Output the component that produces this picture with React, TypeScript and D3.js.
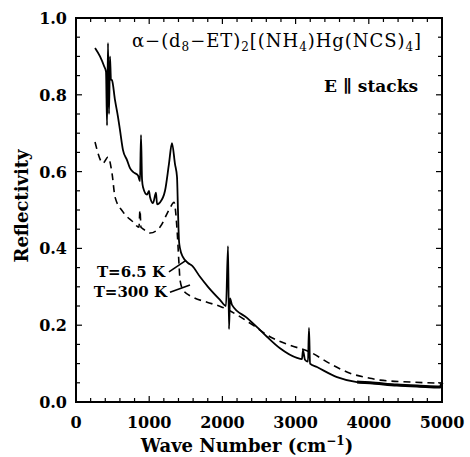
import React from "react";
import * as d3 from "d3";

// T = 6.5 K (solid)
const t65Wave = [260, 328, 383, 410, 424, 437, 451, 464, 478, 492, 533, 574, 601, 642, 697, 738, 779, 847, 874, 888, 902, 915, 970, 997, 1011, 1052, 1093, 1107, 1148, 1216, 1270, 1311, 1352, 1380, 1393, 1407, 1421, 1462, 1530, 1585, 1694, 1803, 1967, 2049, 2077, 2090, 2104, 2131, 2336, 2473, 2609, 2787, 3019, 3087, 3101, 3128, 3169, 3183, 3197, 3292, 3566, 3839, 4016, 4385, 4700, 4973, 5000];
const t65Refl = [0.922, 0.9, 0.875, 0.86, 0.72, 0.935, 0.75, 0.9, 0.84, 0.838, 0.786, 0.742, 0.708, 0.656, 0.63, 0.609, 0.599, 0.59, 0.575, 0.695, 0.58, 0.56, 0.54, 0.55, 0.534, 0.518, 0.545, 0.515, 0.52, 0.55, 0.62, 0.674, 0.62, 0.586, 0.5, 0.42, 0.4, 0.377, 0.362, 0.355, 0.326, 0.3, 0.266, 0.25, 0.406, 0.19, 0.27, 0.253, 0.219, 0.195, 0.17, 0.14, 0.115, 0.112, 0.135, 0.11, 0.105, 0.193, 0.1, 0.091, 0.065, 0.052, 0.05, 0.044, 0.041, 0.039, 0.05];

// T = 300 K (dashed)
const t300Wave = [260, 369, 437, 492, 533, 642, 779, 860, 874, 888, 902, 1011, 1148, 1284, 1339, 1380, 1407, 1421, 1462, 1598, 1790, 1995, 2200, 2418, 2650, 2923, 3197, 3470, 3743, 4016, 4153, 4563, 4973];
const t300Refl = [0.677, 0.622, 0.638, 0.596, 0.534, 0.495, 0.469, 0.455, 0.5, 0.455, 0.453, 0.44, 0.456, 0.505, 0.52, 0.45, 0.36, 0.318, 0.292, 0.273, 0.26, 0.247, 0.227, 0.2, 0.17, 0.148, 0.13, 0.1, 0.075, 0.062, 0.057, 0.052, 0.049];

const xTicks = [0, 1000, 2000, 3000, 4000, 5000];
const xTickLabels = ["0", "1000", "2000", "3000", "4000", "5000"];
const yTicks = [0, 0.2, 0.4, 0.6, 0.8, 1.0];
const yTickLabels = ["0.0", "0.2", "0.4", "0.6", "0.8", "1.0"];

const seriesLabels = ["T=6.5 K", "T=300 K"];
// label anchor [wave, refl] and pointer [[w1,r1],[w2,r2]]
const labelAnchors: [number, number][] = [[1216, 0.326], [1243, 0.273]];
const pointers: [number, number][][] = [
  [[1270, 0.339], [1503, 0.369]],
  [[1284, 0.286], [1557, 0.305]],
];

const W = 470, H = 457;
const L = 76, R = 442, T = 18, B = 402;

export default function App() {
  const x = d3.scaleLinear().domain([0, 5000]).range([L, R]);
  const y = d3.scaleLinear().domain([0, 1]).range([B, T]);
  const line = d3.line<[number, number]>().x(d => x(d[0])).y(d => y(d[1]));
  const curve = d3.line<[number, number]>().x(d => x(d[0])).y(d => y(d[1])).curve(d3.curveMonotoneX);
  const solid = t65Wave.map((w, i) => [w, t65Refl[i]] as [number, number]);
  const dashed = t300Wave.map((w, i) => [w, t300Refl[i]] as [number, number]);
  const tail = solid.filter(d => d[0] >= 3839);
  const xMinor = d3.range(0, 5001, 200);
  const yMinor = d3.range(0, 1.0001, 0.05);
  const serif = "'DejaVu Serif', serif";
  return (
    <svg width={W} height={H} style={{ position: "absolute", left: 0, top: 0, background: "#fff" }}>
      <rect x={0} y={0} width={W} height={H} fill="#fff" />
      {/* ticks */}
      {xMinor.map((v, i) => {
        const major = Math.abs(v % 1000) < 1e-6;
        const len = major ? 6 : 4;
        return (
          <g key={"xt" + i} stroke="#000" strokeWidth={1.2}>
            <line x1={x(v)} x2={x(v)} y1={B} y2={B - len} />
            <line x1={x(v)} x2={x(v)} y1={T} y2={T + len} />
          </g>
        );
      })}
      {yMinor.map((v, i) => {
        const major = Math.abs(Math.round(v * 100) % 20) < 1e-6;
        const len = major ? 6 : 4;
        return (
          <g key={"yt" + i} stroke="#000" strokeWidth={1.2}>
            <line x1={L} x2={L + len} y1={y(v)} y2={y(v)} />
            <line x1={R} x2={R - len} y1={y(v)} y2={y(v)} />
          </g>
        );
      })}
      <rect x={L} y={T} width={R - L} height={B - T} fill="none" stroke="#000" strokeWidth={2} />
      {/* tick labels */}
      {xTicks.map((v, i) => (
        <text key={"xl" + i} x={x(v)} y={428} textAnchor="middle" fontFamily={serif} fontWeight="bold" fontSize={16}>
          {xTickLabels[i]}
        </text>
      ))}
      {yTicks.map((v, i) => (
        <text key={"yl" + i} x={67} y={y(v) + 6} textAnchor="end" fontFamily={serif} fontWeight="bold" fontSize={16}>
          {yTickLabels[i]}
        </text>
      ))}
      <text x={247} y={452} textAnchor="middle" fontFamily={serif} fontWeight="bold" fontSize={18}>
        Wave Number (cm<tspan dy={-7} fontSize={12}>−1</tspan><tspan dy={7}>)</tspan>
      </text>
      <text transform={`translate(28,${206}) rotate(-90)`} textAnchor="middle" fontFamily={serif} fontWeight="bold" fontSize={18}>
        Reflectivity
      </text>
      {/* curves */}
      <path d={curve(solid) || ""} fill="none" stroke="#000" strokeWidth={1.8} strokeLinejoin="round" />
      <path d={curve(tail) || ""} fill="none" stroke="#000" strokeWidth={3} strokeLinejoin="round" />
      <path d={curve(dashed) || ""} fill="none" stroke="#000" strokeWidth={1.6} strokeDasharray="7,5" />
      {/* title */}
      <text x={132} y={47} fontFamily={serif} fontSize={18} letterSpacing={0.95}>
        α−(d<tspan dy={4} fontSize={12}>8</tspan><tspan dy={-4}>−ET)</tspan><tspan dy={4} fontSize={12}>2</tspan><tspan dy={-4}>[(NH</tspan><tspan dy={4} fontSize={12}>4</tspan><tspan dy={-4}>)Hg(NCS)</tspan><tspan dy={4} fontSize={12}>4</tspan><tspan dy={-4}>]</tspan>
      </text>
      <text x={418} y={92} textAnchor="end" fontFamily={serif} fontWeight="bold" fontSize={17}>
        E ∥ stacks
      </text>
      {/* series labels */}
      {seriesLabels.map((s, i) => (
        <g key={"sl" + i}>
          <text x={x(labelAnchors[i][0])} y={y(labelAnchors[i][1])} textAnchor="end" fontFamily={serif} fontWeight="bold" fontSize={15}>
            {s}
          </text>
          <path d={line(pointers[i]) || ""} fill="none" stroke="#000" strokeWidth={1.6} />
        </g>
      ))}
    </svg>
  );
}
